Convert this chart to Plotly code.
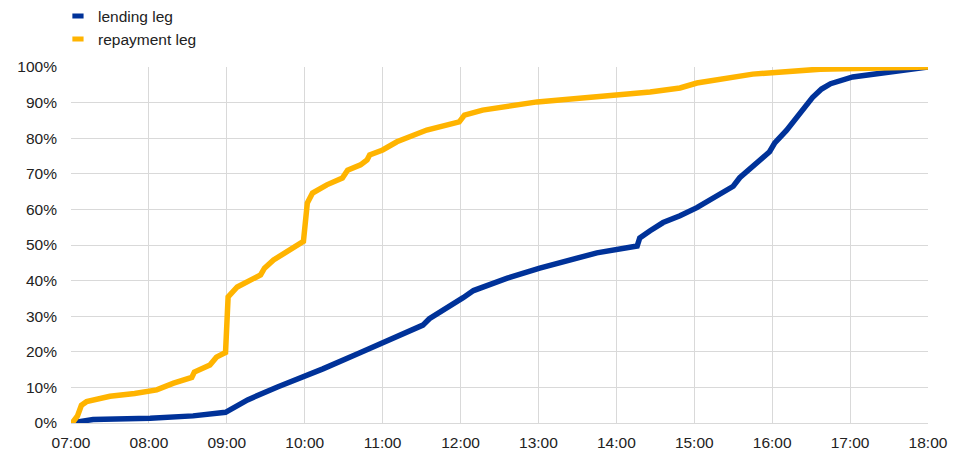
import plotly.graph_objects as go

# Cumulative share of daily value settled (%), by time of day
lending_time = ["07:00", "07:07", "07:17", "08:01", "08:34", "08:59", "09:16", "09:39",
                "09:59", "10:14", "10:43", "11:00", "11:31", "11:36", "11:54", "12:02",
                "12:10", "12:36", "13:01", "13:45", "14:16", "14:18", "14:26", "14:36",
                "14:49", "15:02", "15:30", "15:35", "15:58", "16:02", "16:11", "16:31",
                "16:38", "16:45", "17:02", "18:00"]
lending_pct = [0, 0.3, 1.0, 1.3, 2.0, 3.0, 6.5, 10.1,
               12.9, 15.2, 19.8, 22.5, 27.5, 29.3, 33.2, 35.2,
               37.2, 40.7, 43.5, 47.8, 49.7, 52.0, 54.0, 56.3,
               58.2, 60.5, 66.5, 68.9, 76.2, 78.7, 82.2, 91.4,
               93.8, 95.3, 97.2, 100]

repay_time = ["07:00", "07:02", "07:05", "07:08", "07:12", "07:30", "07:49", "08:06",
              "08:19", "08:28", "08:33", "08:35", "08:47", "08:52", "08:59", "09:01",
              "09:08", "09:26", "09:29", "09:36", "09:46", "09:59", "10:02", "10:06",
              "10:17", "10:29", "10:33", "10:43", "10:48", "10:50", "11:00", "11:11",
              "11:34", "11:59", "12:03", "12:17", "12:59", "14:00", "14:26", "14:49",
              "15:02", "15:45", "16:37", "18:00"]
repay_pct = [0, 0.5, 2.0, 5.0, 6.0, 7.5, 8.3, 9.3,
             11.2, 12.2, 12.8, 14.3, 16.3, 18.5, 19.8, 35.4,
             38.2, 41.6, 43.5, 45.8, 48.0, 51.0, 61.8, 64.6,
             66.9, 68.8, 71.0, 72.5, 73.9, 75.3, 76.7, 79.0,
             82.3, 84.6, 86.5, 87.9, 90.2, 92.1, 93.0, 94.1,
             95.5, 98.0, 99.4, 100]

series_names = ["lending leg", "repayment leg"]

x_ticks = ["07:00", "08:00", "09:00", "10:00", "11:00", "12:00",
           "13:00", "14:00", "15:00", "16:00", "17:00", "18:00"]
y_ticks = [0, 10, 20, 30, 40, 50, 60, 70, 80, 90, 100]

DAY = "2024-01-01 "
def ts(lst):
    return [DAY + t for t in lst]

BLUE = "#003299"
YELLOW = "#FFB400"
GRID = "#d9d9d9"
TEXT = "#222222"
FONT = "Liberation Sans, Arial, sans-serif"

fig = go.Figure()
for name, t, v, c in [(series_names[0], lending_time, lending_pct, BLUE),
                      (series_names[1], repay_time, repay_pct, YELLOW)]:
    fig.add_trace(go.Scatter(x=ts(t), y=v, mode="lines", name=name,
                             line=dict(color=c, width=5.5), showlegend=False,
                             legendgroup=name))
    # legend key (short thick bar)
    fig.add_trace(go.Scatter(x=[None], y=[None], mode="markers", name=name,
                             legendgroup=name,
                             marker=dict(symbol="line-ew", size=8,
                                         line=dict(color=c, width=6))))

fig.update_layout(
    width=954, height=457,
    margin=dict(l=63, r=34, t=59, b=42, autoexpand=False),
    paper_bgcolor="white", plot_bgcolor="white",
    font=dict(family=FONT, size=15, color=TEXT),
    showlegend=True,
    legend=dict(x=-0.0152, y=1.19, xref="paper", yref="paper",
                xanchor="left", yanchor="top",
                orientation="v", font=dict(size=15.5, color=TEXT),
                itemwidth=30, tracegroupgap=0, bgcolor="rgba(0,0,0,0)"),
)

fig.update_xaxes(type="date",
                 range=[DAY + "07:00", DAY + "18:00"],
                 tickvals=ts(x_ticks), ticktext=x_ticks,
                 showgrid=True, gridcolor=GRID, gridwidth=1,
                 showline=True, linecolor=GRID, linewidth=1,
                 ticks="", ticklabelstandoff=5, zeroline=False,
                 tickfont=dict(size=15.5, color=TEXT))
fig.update_yaxes(range=[0, 100],
                 tickvals=y_ticks, ticktext=[f"{v}%" for v in y_ticks],
                 showgrid=True, gridcolor=GRID, gridwidth=1,
                 showline=False, zeroline=False, ticks="",
                 ticklabelstandoff=13,
                 tickfont=dict(size=15.5, color=TEXT))

fig.write_html("out.html")
